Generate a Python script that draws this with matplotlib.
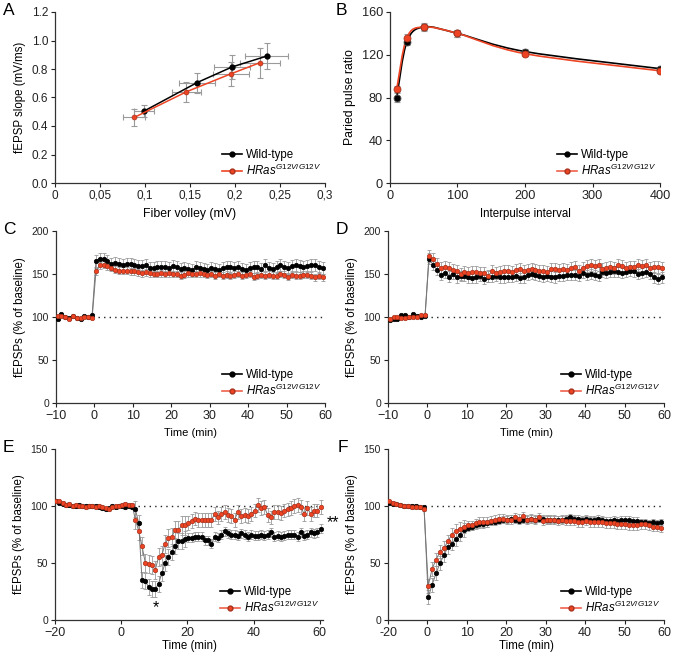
import numpy as np
import matplotlib
matplotlib.use('Agg')
import matplotlib.pyplot as plt
from matplotlib.lines import Line2D
from matplotlib.path import Path
from matplotlib.patches import PathPatch

plt.rcParams['font.family'] = ['Liberation Sans', 'DejaVu Sans']
plt.rcParams['mathtext.fontset'] = 'custom'
plt.rcParams['mathtext.it'] = 'Liberation Sans:italic'
plt.rcParams['mathtext.rm'] = 'Liberation Sans'

BLACK = '#000000'
RED = '#ee4423'
RED_EDGE = '#a8321c'
RED_LINE = '#f0604a'
GRAY = '#9a9a9a'
KO_LABEL = r'$HRas^{\mathit{G12V/G12V}}$'

# ---- A: input/output ----
fv_wt = [0.099, 0.158, 0.197, 0.235]
slope_wt = [0.505, 0.705, 0.815, 0.89]
fv_wt_err = [0.011, 0.02, 0.02, 0.024]
slope_wt_err = [0.045, 0.07, 0.085, 0.09]
fv_ko = [0.088, 0.146, 0.195, 0.228]
slope_ko = [0.46, 0.64, 0.765, 0.845]
fv_ko_err = [0.012, 0.016, 0.02, 0.022]
slope_ko_err = [0.057, 0.072, 0.085, 0.105]

# ---- B: paired pulse ----
ipi = [10, 25, 50, 100, 200, 400]
ppr_wt = [80, 132, 146, 140, 123, 107]
ppr_wt_err = [4, 3, 4, 3, 2, 2]
ppr_ko = [88, 136, 146, 140, 121, 105]
ppr_ko_err = [3, 3, 3, 3, 2, 2]

# ---- C / D: LTP (1 sample per minute) ----
t_base_cd = np.arange(-10, 0) + 0.4
t_post_cd = np.arange(0, 60) + 0.4

c_wt_base = [98, 103, 100, 99, 101, 99, 98, 101, 100, 102]
c_wt_post = [165, 168, 167, 165, 162, 163, 162, 160, 162, 162,
             160, 159, 159, 160, 157, 157, 158, 158, 158, 157,
             159, 158, 156, 157, 156, 155, 158, 157, 156, 155,
             157, 156, 155, 157, 158, 158, 157, 158, 156, 155,
             157, 158, 158, 156, 160, 157, 156, 158, 160, 158,
             157, 159, 160, 159, 158, 159, 160, 161, 158, 157]
c_ko_base = [101, 101, 100, 98, 101, 99, 99, 100, 100, 99]
c_ko_post = [153, 160, 161, 159, 157, 155, 154, 154, 154, 153,
             153, 152, 151, 152, 151, 150, 150, 151, 150, 151,
             150, 150, 148, 149, 151, 150, 150, 151, 150, 149,
             150, 148, 150, 148, 149, 148, 149, 150, 148, 149,
             150, 147, 148, 149, 148, 149, 148, 148, 150, 149,
             147, 149, 148, 148, 149, 149, 148, 146, 148, 146]
c_sem_wt = (1.5, 7)
c_sem_ko = (1.5, 4)

d_wt_base = [97, 98, 98, 102, 102, 100, 103, 101, 100, 101]
d_wt_post = [168, 161, 155, 149, 151, 147, 150, 146, 148, 148,
             146, 145, 146, 148, 144, 147, 147, 148, 146, 146,
             147, 147, 148, 145, 146, 149, 150, 149, 148, 147,
             148, 147, 146, 148, 148, 149, 149, 149, 148, 151,
             149, 150, 149, 148, 152, 151, 152, 153, 152, 151,
             152, 154, 153, 150, 151, 152, 150, 146, 144, 146]
d_ko_base = [98, 100, 100, 99, 99, 100, 100, 100, 102, 102]
d_ko_post = [171, 167, 162, 157, 158, 157, 155, 154, 150, 152,
             151, 152, 152, 151, 151, 148, 153, 151, 152, 153,
             154, 152, 155, 156, 153, 155, 156, 155, 154, 154,
             152, 156, 156, 155, 156, 155, 157, 158, 154, 157,
             159, 160, 159, 160, 156, 157, 158, 157, 160, 159,
             157, 158, 158, 160, 159, 161, 157, 158, 158, 157]
d_sem_wt = (1.5, 6)
d_sem_ko = (1.5, 7)

# ---- E: LTD, -20..60 min ----
t_e = np.arange(-20, 61) + 0.3
e_wt = [104, 103, 102, 101, 101, 100, 100, 101, 100, 100,
        100, 100, 100, 99, 98, 97, 98, 100, 99, 100,
        100, 99, 100, 99,
        97, 85, 35, 34, 29, 27, 27, 32, 41, 50, 55, 60, 65, 69, 69, 71,
        72, 72, 73, 73, 73, 70, 70, 67, 73, 72,
        75, 78, 76, 75, 75, 74, 76, 75, 73, 75,
        74, 74, 75, 74, 75, 77, 73, 74, 73, 74,
        75, 75, 75, 73, 77, 74, 75, 77, 76, 77, 80]
e_ko = [104, 104, 103, 101, 102, 100, 101, 100, 100, 99,
        100, 100, 99, 100, 99, 98, 97, 99, 100, 100,
        101, 102, 101, 101,
        88, 78, 65, 50, 49, 48, 44, 55, 57, 67, 72, 73, 79, 79, 83, 83,
        85, 87, 89, 88, 88, 88, 88, 88, 93, 90,
        93, 95, 92, 91, 88, 95, 91, 92, 91, 93,
        96, 101, 98, 99, 92, 90, 95, 95, 94, 96,
        97, 98, 100, 101, 99, 93, 98, 93, 96, 96, 99]
e_sem_wt = (1.5, 7, 4)   # baseline, dip, late
e_sem_ko = (1.5, 8, 6)

# ---- F: depotentiation; baseline sampled every 2 min ----
t_base_f = np.arange(-20, 0, 2) + 0.3
t_post_f = np.arange(0, 60) + 0.2
f_wt_base = [103, 102, 102, 101, 100, 100, 100, 100, 99, 99]
f_wt_post = [20, 31, 41, 50, 57, 64, 67, 71, 75, 79,
             81, 82, 83, 84, 84, 85, 86, 86, 87, 88,
             88, 89, 88, 87, 88, 88, 89, 88, 89, 89,
             88, 88, 88, 88, 88, 89, 90, 89, 89, 88,
             89, 88, 88, 89, 88, 87, 87, 88, 87, 88,
             88, 88, 87, 87, 86, 86, 85, 86, 85, 86]
f_ko_base = [104, 103, 102, 101, 100, 100, 99, 99, 99, 97]
f_ko_post = [30, 45, 53, 60, 63, 69, 75, 78, 80, 82,
             83, 83, 85, 86, 86, 86, 87, 88, 89, 89,
             88, 88, 90, 89, 91, 88, 89, 88, 90, 87,
             88, 88, 88, 87, 88, 87, 87, 87, 86, 86,
             87, 86, 86, 86, 86, 85, 85, 85, 84, 84,
             84, 83, 83, 83, 84, 84, 83, 82, 82, 81]
f_sem_wt = (1.5, 6, 3)   # baseline, first 10 min, rest
f_sem_ko = (1.5, 6, 4)


def W(x):
    return x / 675.0


def H(y0, y1):
    return 1 - y1 / 661.0, (y1 - y0) / 661.0


def new_axes(x0, x1, y0, y1, xsize=9, ysize=7.5):
    b, h = H(y0, y1)
    ax = fig.add_axes([W(x0), b, W(x1 - x0), h])
    for s in ('top', 'right'):
        ax.spines[s].set_visible(False)
    for s in ('left', 'bottom'):
        ax.spines[s].set_linewidth(0.9)
        ax.spines[s].set_color('#333333')
    ax.tick_params(direction='out', length=3, width=0.8,
                   colors='#222222', pad=2)
    ax.tick_params(axis='x', labelsize=xsize)
    ax.tick_params(axis='y', labelsize=ysize)
    return ax


def legend(ax, lines_colored=True):
    hw = Line2D([], [], color=BLACK, lw=1.2, marker='o', ms=3.5,
                mfc=BLACK, mec=BLACK)
    hk = Line2D([], [], color=RED_LINE if lines_colored else RED, lw=1.2,
                marker='o', ms=3.5, mfc=RED, mec=RED_EDGE)
    ax.legend([hw, hk], ['Wild-type', KO_LABEL], loc='lower right',
              bbox_to_anchor=(1.01, -0.01), frameon=False, fontsize=8.3,
              handlelength=1.7, handletextpad=0.35, labelspacing=0.2,
              borderaxespad=0.15)


def series(ax, x, y, yerr, mfc, mec, ms=3.2):
    ax.errorbar(x, y, yerr=yerr, fmt='none', ecolor=GRAY, elinewidth=0.6,
                capsize=1.5, capthick=0.6, zorder=2)
    ax.plot(x, y, '-', color='#777777', lw=0.7, zorder=3)
    ax.plot(x, y, 'o', ms=ms, mfc=mfc, mec=mec, mew=0.5, zorder=4)


def smooth_path(x, y):
    p = np.column_stack([x, y]).astype(float)
    n = len(p)
    verts = [p[0]]
    codes = [Path.MOVETO]
    for i in range(n - 1):
        p0 = p[i - 1] if i > 0 else p[i]
        p3 = p[i + 2] if i + 2 < n else p[i + 1]
        c1 = p[i] + (p[i + 1] - p0) / 6.0
        c2 = p[i + 1] - (p3 - p[i]) / 6.0
        verts += [c1, c2, p[i + 1]]
        codes += [Path.CURVE4] * 3
    return Path(verts, codes)


def panel_letter(x, y, s):
    fig.text(W(x), 1 - y / 661.0, s, fontsize=12.5, ha='left', va='top')


fig = plt.figure(figsize=(6.75, 6.61), dpi=100)

# A
ax = new_axes(55, 325, 12, 183, xsize=8.5, ysize=8.5)
ax.errorbar(fv_wt, slope_wt, xerr=fv_wt_err, yerr=slope_wt_err, fmt='none',
            ecolor=GRAY, elinewidth=0.8, capsize=2, capthick=0.8, zorder=2)
ax.errorbar(fv_ko, slope_ko, xerr=fv_ko_err, yerr=slope_ko_err, fmt='none',
            ecolor=GRAY, elinewidth=0.8, capsize=2, capthick=0.8, zorder=2)
ax.plot(fv_wt, slope_wt, '-o', color=BLACK, lw=1.1, ms=3.5, zorder=4)
ax.plot(fv_ko, slope_ko, '-o', color=RED, lw=1.1, ms=3.5, mfc=RED,
        mec=RED_EDGE, mew=0.5, zorder=4)
ax.set_xlim(0, 0.3)
ax.set_ylim(0, 1.2)
ax.set_xticks([0, 0.05, 0.1, 0.15, 0.2, 0.25, 0.3])
ax.set_xticklabels(['0', '0,05', '0,1', '0,15', '0,2', '0,25', '0,3'])
ax.set_yticks(np.arange(0, 1.21, 0.2))
ax.set_yticklabels(['0.0', '0.2', '0.4', '0.6', '0.8', '1.0', '1.2'])
ax.set_xlabel('Fiber volley (mV)', fontsize=8.8, labelpad=4)
ax.set_ylabel('fEPSP slope (mV/ms)', fontsize=8.3, labelpad=4)
legend(ax, lines_colored=False)

# B
ax = new_axes(390, 660, 12, 183, xsize=9.2, ysize=9.2)
ax.errorbar(ipi, ppr_wt, yerr=ppr_wt_err, fmt='none', ecolor=GRAY,
            elinewidth=0.8, capsize=2, capthick=0.8, zorder=2)
ax.errorbar(ipi, ppr_ko, yerr=ppr_ko_err, fmt='none', ecolor=GRAY,
            elinewidth=0.8, capsize=2, capthick=0.8, zorder=2)
ax.add_patch(PathPatch(smooth_path(ipi, ppr_wt), fill=False, edgecolor=BLACK,
                       lw=1.2, zorder=3))
ax.add_patch(PathPatch(smooth_path(ipi, ppr_ko), fill=False, edgecolor=RED,
                       lw=1.2, zorder=3))
ax.plot(ipi, ppr_wt, 'o', ms=5, mfc=BLACK, mec='#555555', mew=0.6, zorder=4)
ax.plot(ipi, ppr_ko, 'o', ms=5, mfc=RED, mec=RED_EDGE, mew=0.6, zorder=5)
ax.set_xlim(0, 400)
ax.set_ylim(0, 160)
ax.set_xticks([0, 100, 200, 300, 400])
ax.set_yticks([0, 40, 80, 120, 160])
ax.set_xlabel('Interpulse interval', fontsize=8.3, labelpad=4)
ax.set_ylabel('Paried pulse ratio', fontsize=8.8, labelpad=4)
legend(ax)


def ltp_panel(ax, wt_base, wt_post, ko_base, ko_post, sem_wt, sem_ko):
    t = np.concatenate([t_base_cd, t_post_cd])
    for base, post, sem, mfc, mec in ((wt_base, wt_post, sem_wt, BLACK, BLACK),
                                      (ko_base, ko_post, sem_ko, RED, RED_EDGE)):
        y = np.concatenate([base, post])
        err = np.concatenate([np.full(len(base), sem[0]),
                              np.full(len(post), sem[1])])
        series(ax, t, y, err, mfc, mec)
    ax.plot([0.8, 60], [100, 100], linestyle=(0, (1, 3)), color='#222222',
            lw=1.0, zorder=1)
    ax.set_xlim(-10, 60)
    ax.set_ylim(0, 200)
    ax.set_xticks(range(-10, 61, 10))
    ax.set_yticks([0, 50, 100, 150, 200])
    ax.set_xlabel('Time (min)', fontsize=8, labelpad=4)
    ax.set_ylabel('fEPSPs (% of baseline)', fontsize=8.3, labelpad=4)
    legend(ax)


# C
ax = new_axes(56, 325, 231, 403)
ltp_panel(ax, c_wt_base, c_wt_post, c_ko_base, c_ko_post, c_sem_wt, c_sem_ko)

# D
ax = new_axes(388, 664, 231, 403)
ltp_panel(ax, d_wt_base, d_wt_post, d_ko_base, d_ko_post, d_sem_wt, d_sem_ko)

# E
ax = new_axes(55, 323, 449, 620)
for y, sem, mfc, mec in ((e_wt, e_sem_wt, BLACK, BLACK),
                         (e_ko, e_sem_ko, RED, RED_EDGE)):
    err = np.concatenate([np.full(24, sem[0]), np.full(16, sem[1]),
                          np.full(len(y) - 40, sem[2])])
    series(ax, t_e, y, err, mfc, mec)
ax.plot([5, 60], [100, 100], linestyle=(0, (1, 3)), color='#222222', lw=1.0,
        zorder=1)
ax.set_xlim(-20, 61)
ax.set_ylim(0, 150)
ax.set_xticks([-20, 0, 20, 40, 60])
ax.set_yticks([0, 50, 100, 150])
ax.set_xlabel('Time (min)', fontsize=8.3, labelpad=1)
ax.set_ylabel('fEPSPs (% of baseline)', fontsize=8.3, labelpad=4)
ax.text(10.4, 11, '*', ha='center', va='center', fontsize=11.5)
ax.text(64, 85, '**', ha='center', va='center', fontsize=11.5, clip_on=False)
legend(ax)

# F  (baseline drawn at half scale: -20 min sits where -10 would)
ax = new_axes(388, 664, 449, 620)
xf = np.concatenate([t_base_f / 2.0, t_post_f])
for base, post, sem, mfc, mec in ((f_wt_base, f_wt_post, f_sem_wt, BLACK, BLACK),
                                  (f_ko_base, f_ko_post, f_sem_ko, RED, RED_EDGE)):
    y = np.concatenate([base, post])
    err = np.concatenate([np.full(len(base), sem[0]), np.full(10, sem[1]),
                          np.full(len(post) - 10, sem[2])])
    series(ax, xf, y, err, mfc, mec)
ax.plot([1, 60], [100, 100], linestyle=(0, (1, 3)), color='#222222', lw=1.0,
        zorder=1)
ax.set_xlim(-10, 60)
ax.set_ylim(0, 150)
ax.set_xticks([-10, 0, 10, 20, 30, 40, 50, 60])
ax.set_xticklabels(['-20', '0', '10', '20', '30', '40', '50', '60'])
ax.set_yticks([0, 50, 100, 150])
ax.set_xlabel('Time (min)', fontsize=8.3, labelpad=1)
ax.set_ylabel('fEPSPs (% of baseline)', fontsize=8.3, labelpad=4)
legend(ax)

panel_letter(3, 3, 'A')
panel_letter(336, 3, 'B')
panel_letter(3, 222, 'C')
panel_letter(336, 222, 'D')
panel_letter(3, 440, 'E')
panel_letter(338, 440, 'F')

fig.savefig('out.png', dpi=100)
